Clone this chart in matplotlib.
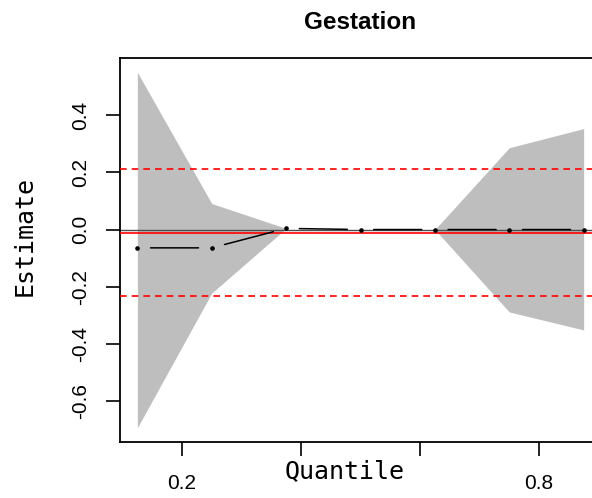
import numpy as np
import matplotlib
matplotlib.use("Agg")
import matplotlib.pyplot as plt

# quantile regression coefficient for "Gestation"
taus = [0.125, 0.25, 0.375, 0.5, 0.625, 0.75, 0.875]
estimate = [-0.064, -0.064, 0.004, 0.0, 0.0, 0.0, 0.0]
ci_lower = [-0.693, -0.222, 0.004, 0.0, 0.0, -0.288, -0.351]
ci_upper = [0.550, 0.091, 0.004, 0.0, 0.0, 0.286, 0.353]

ols_est = -0.012
ols_lower = -0.233
ols_upper = 0.212

xticks = [0.2, 0.4, 0.6, 0.8]
xticklabels = ["0.2", "", "", "0.8"]
yticks = [-0.6, -0.4, -0.2, 0.0, 0.2, 0.4]
yticklabels = ["-0.6", "-0.4", "-0.2", "0.0", "0.2", "0.4"]

W, H = 592, 498
fig = plt.figure(figsize=(W / 100, H / 100), dpi=100)

# R style 4% range extension
def rlim(lo, hi):
    d = (hi - lo) * 0.04
    return lo - d, hi + d

xlim = rlim(min(taus), max(taus))
ylim = rlim(min(ci_lower + [ols_lower]), max(ci_upper + [ols_upper]))

# plot region runs off the right edge, like the original
left, right, top, bottom = 119.5, 601.5, 58, 442
ax = fig.add_axes([left / W, 1 - bottom / H, (right - left) / W, (bottom - top) / H])
ax.set_xlim(*xlim)
ax.set_ylim(*ylim)

ax.fill_between(taus, ci_lower, ci_upper, color="#bebebe", linewidth=0, zorder=1)

ax.axhline(0, color="#4d4d4d", linewidth=1.0, zorder=2)
ax.axhline(ols_est, color="red", linewidth=1.2, zorder=3)
ax.axhline(ols_lower, color="red", linewidth=1.2, linestyle=(0, (4, 3)), zorder=3)
ax.axhline(ols_upper, color="red", linewidth=1.2, linestyle=(0, (4, 3)), zorder=3)

# type = "b": points with gapped line segments
ax.plot(taus, estimate, "o", color="black", markersize=2.3, zorder=5)
for i in range(len(taus) - 1):
    ax.annotate("", xy=(taus[i + 1], estimate[i + 1]), xytext=(taus[i], estimate[i]),
                arrowprops=dict(arrowstyle="-", color="black", lw=1.1,
                                shrinkA=9.5, shrinkB=9.5), zorder=4)

for s in ["left", "top", "bottom"]:
    ax.spines[s].set_linewidth(1.3)
ax.spines["right"].set_visible(False)

ax.set_xticks(xticks)
ax.set_xticklabels(xticklabels, fontsize=15, fontfamily="Liberation Sans")
ax.set_yticks(yticks)
ax.set_yticklabels(yticklabels, fontsize=15, fontfamily="Liberation Sans",
                   rotation=90, va="center")
ax.tick_params(axis="both", length=10, width=1.2, direction="out")
ax.tick_params(axis="x", pad=13)
ax.tick_params(axis="y", pad=11)

ax.set_title("Gestation", fontsize=17.5, fontweight="bold",
             fontfamily="Liberation Sans", pad=21)
ax.set_xlabel("Quantile", fontsize=18, fontfamily="DejaVu Sans Mono")
ax.xaxis.set_label_coords((345 - left) / (right - left), -(459 - bottom) / (bottom - top))
ax.set_ylabel("Estimate", fontsize=18, fontfamily="DejaVu Sans Mono")
ax.yaxis.set_label_coords(-(left - 37) / (right - left), (bottom - 236) / (bottom - top))

fig.savefig("out.png", dpi=100)
